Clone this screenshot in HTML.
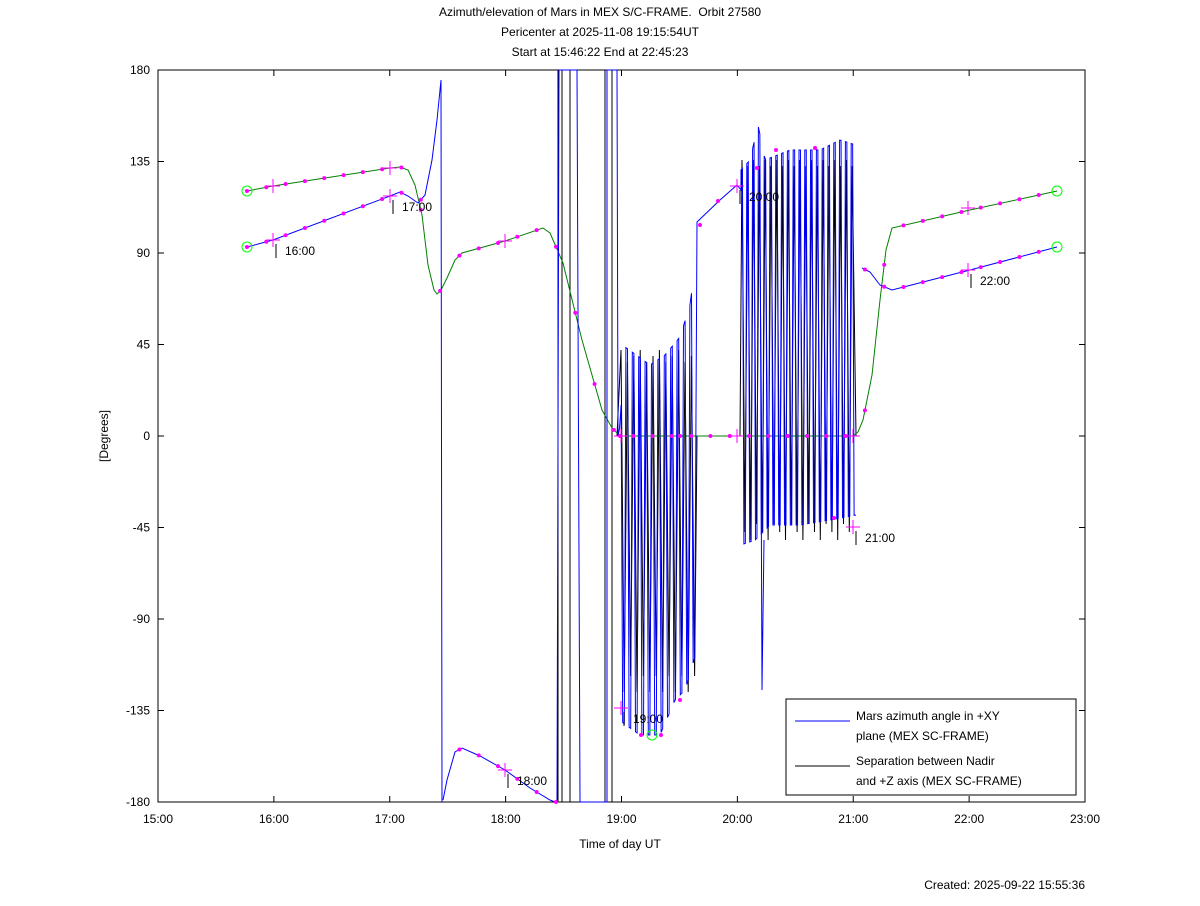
<!DOCTYPE html>
<html><head><meta charset="utf-8"><style>
body{margin:0;background:#fff;width:1200px;height:901px;overflow:hidden;font-family:"Liberation Sans",sans-serif}
svg text{font-family:"Liberation Sans",sans-serif;font-size:12px;fill:#000}
</style></head><body>
<svg id="s" width="1200" height="901" xmlns="http://www.w3.org/2000/svg">
<rect x="0" y="0" width="1200" height="901" fill="#fff"/>
<text x="600" y="16" text-anchor="middle">Azimuth/elevation of Mars in MEX S/C-FRAME.&#160; Orbit 27580</text>
<text x="600" y="36" text-anchor="middle">Pericenter at 2025-11-08 19:15:54UT</text>
<text x="600" y="56" text-anchor="middle">Start at 15:46:22 End at 22:45:23</text>
<rect x="158" y="70" width="927" height="732" fill="none" stroke="#000"/>
<g id="ax"></g>
<text x="620" y="848" text-anchor="middle">Time of day UT</text>
<text transform="translate(108,436) rotate(-90)" text-anchor="middle">[Degrees]</text>
<text x="1085" y="889" text-anchor="end">Created: 2025-09-22 15:55:36</text>
<g id="plot"></g>
<rect x="786" y="699" width="290" height="96" fill="#fff" stroke="#000"/>
<line x1="795" y1="721" x2="850" y2="721" stroke="#0000ff"/>
<text x="856" y="720">Mars azimuth angle in +XY</text>
<text x="856" y="740">plane (MEX SC-FRAME)</text>
<line x1="795" y1="766" x2="850" y2="766" stroke="#000"/>
<text x="856" y="765">Separation between Nadir</text>
<text x="856" y="785">and +Z axis (MEX SC-FRAME)</text>
</svg>
<script>
const NS="http://www.w3.org/2000/svg";
const X=h=>158+(h-15)*115.875, Y=d=>436-d*2.0333;
function el(p,t,a,txt){const e=document.createElementNS(NS,t);for(const k in a)e.setAttribute(k,a[k]);if(txt)e.textContent=txt;p.appendChild(e);return e;}
const ax=document.getElementById('ax'),pl=document.getElementById('plot');
for(let h=15;h<=23;h++){const x=X(h);el(ax,'line',{x1:x,y1:802,x2:x,y2:796,stroke:'#000'});el(ax,'line',{x1:x,y1:70,x2:x,y2:76,stroke:'#000'});el(ax,'text',{x:x,y:823,'text-anchor':'middle'},h+':00');}
for(let d=-180;d<=180;d+=45){const y=Y(d);el(ax,'line',{x1:158,y1:y,x2:164,y2:y,stroke:'#000'});el(ax,'line',{x1:1085,y1:y,x2:1079,y2:y,stroke:'#000'});el(ax,'text',{x:150,y:y+4,'text-anchor':'end'},String(d));}
function pinterp(pts,x){for(let i=0;i<pts.length-1;i++){const a=pts[i],b=pts[i+1];if(x>=a[0]&&x<=b[0]&&b[0]>a[0]){const t=(x-a[0])/(b[0]-a[0]);return a[1]+t*(b[1]-a[1]);}}return null;}
function path(pts,c){el(pl,'polyline',{points:pts.map(p=>p[0]+','+p[1]).join(' '),fill:'none',stroke:c,'stroke-width':1});}
// black (behind)
let bk=[[617,436]];
for(let x=621,i=0;x<696;x+=3.2,i++){bk.push([x,i%2?700-(i%4)*8:350+(i%3)*6]);}
bk.push([697,436],[740,436]);
for(let x=742,i=0;x<855;x+=2.9,i++){bk.push([x,i%2?540-(i%3)*8:160+(i%4)*3]);}
bk.push([856,436]);
path(bk,'#000');
[[558,70,802],[562,70,802],[570,70,802],[605,70,802],[612,70,802]].forEach(v=>el(pl,'line',{x1:v[0],y1:v[1],x2:v[0],y2:v[2],stroke:'#000'}));
// green
const g=[[247,191],[273,186],[390,168],[400,167],[408,170],[415,185],[422,215],[428,265],[434,290],[437,294],[441,290],[447,278],[455,260],[462,253],[505,241],[543,228],[550,233],[563,263],[582,340],[602,410],[612,428],[620,436],[853,436],[858,432],[863,420],[872,375],[880,300],[886,250],[892,228],[970,210],[1057,191]];
path(g,'#008000');
// blue
const b1=[[247,247],[273,240],[390,196],[400,192],[408,196],[418,203],[425,195],[432,160],[437,120],[441,80],[442,802]];
path(b1,'#0000ff');
const b2=[[443,800],[447,780],[455,752],[462,748],[480,756],[505,770],[530,788],[550,800],[555,802],[557,802],[559,70],[577,70],[580,802],[607,802],[607,70],[617,70],[618,436]];
const topE=[[619,436],[625,347],[650,365],[665,355],[680,337],[690,305],[697,250]];
const botE=[[619,720],[640,735],[660,735],[675,700],[685,690],[697,650]];
let d1=[];
for(let x=619.5,i=0;x<696;x+=1.6,i++){const k=Math.floor(i/2)%2;d1.push([x,k? pinterp(botE,x):pinterp(topE,x)]);}
const topF=[[741,170],[750,160],[758,125],[765,160],[790,150],[820,150],[840,140],[856,145]];
const botF=[[741,545],[755,540],[770,525],[800,525],[830,520],[856,515]];
let d2=[];
for(let x=741,i=0;x<856;x+=1.45,i++){const k=Math.floor(i/2)%2;d2.push([x,k? pinterp(botF,x):pinterp(topF,x)]);}
let blue=b2.concat(d1,[[697,222],[720,200],[737,185],[741,190]],d2,[[856,515]]);
path(blue,'#0000ff');
path([[761,440],[762,690],[764,540]],'#0000ff');
const b3=[[862,268],[870,272],[880,285],[892,290],[970,270],[1057,247]];
path(b3,'#0000ff');
// markers
function dots(pts,x0,x1){for(let x=247;x<=1058;x+=19.31){if(x<x0||x>x1)continue;const v=pinterp(pts,x);if(v!==null)el(pl,'circle',{cx:x,cy:v,r:2,fill:'#ff00ff'});}}
dots(g,240,1060);dots(b1,240,430);dots(b2,443,556);dots(b3,862,1060);
[[680,436],[700,225],[718,201],[620,436],[641,735],[661,735],[680,700],[757,168],[776,150],[815,148],[834,518]].forEach(c=>el(pl,'circle',{cx:c[0],cy:c[1],r:2,fill:'#ff00ff'}));
function cross(x,y){el(pl,'path',{d:`M${x-7},${y}H${x+7}M${x},${y-7}V${y+7}`,stroke:'#ff00ff'});}
[[273,186],[390,168],[505,241],[968,208],[273,240],[390,196],[505,770],[621,708],[737,186],[853,527],[968,270],[621,436],[737,436],[853,436]].forEach(c=>cross(c[0],c[1]));
[[247,191],[247,247],[1057,191],[1057,247],[652,735]].forEach(c=>el(pl,'circle',{cx:c[0],cy:c[1],r:5,fill:'none',stroke:'#00ff00'}));
[[273,240,'16:00'],[390,196,'17:00'],[505,770,'18:00'],[621,708,'19:00'],[737,186,'20:00'],[853,527,'21:00'],[968,270,'22:00']].forEach(l=>{const x=l[0],y=l[1];el(pl,'line',{x1:x+3,y1:y+4,x2:x+3,y2:y+18,stroke:'#000'});el(pl,'text',{x:x+12,y:y+15},l[2]);});
</script>
</body></html>
